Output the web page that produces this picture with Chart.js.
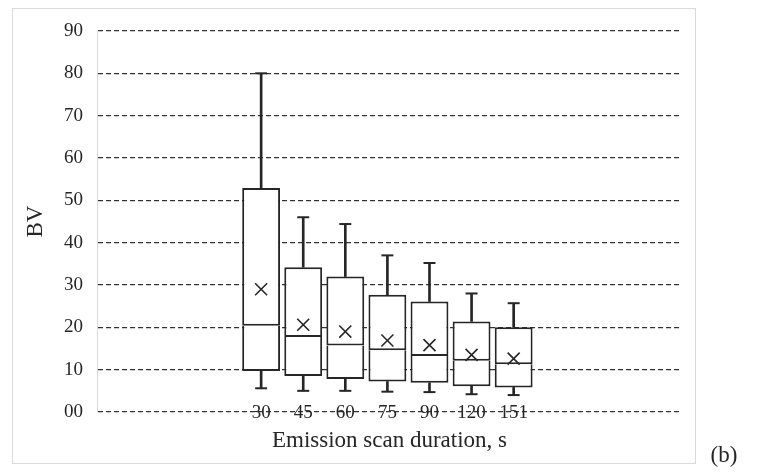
<!DOCTYPE html>
<html>
<head>
<meta charset="utf-8">
<script src="https://cdn.jsdelivr.net/npm/chart.js@4.4.1/dist/chart.umd.min.js"></script>
<style>
    html, body { margin: 0; padding: 0; background: #fff; }
    #wrap { position: relative; width: 757px; height: 475px; }
</style>
</head>
<body>
<div id="wrap">
    <canvas id="canva" width="757" height="475"></canvas>
</div>
<script>
// scan durations (s) and box statistics for BV
const durations = ['30', '45', '60', '75', '90', '120', '151'];
const whiskerMin = [5.6, 5.0, 5.0, 4.8, 4.7, 4.2, 4.0];
const q1 = [9.7, 8.5, 7.8, 7.2, 6.9, 6.1, 5.8];
const median = [20.4, 17.7, 15.7, 14.6, 13.2, 12.1, 11.3];
const q3 = [52.9, 34.2, 32.0, 27.7, 26.1, 21.4, 20.0];
const whiskerMax = [80.0, 46.0, 44.4, 37.0, 35.2, 28.0, 25.7];
const mean = [29.0, 20.6, 19.0, 16.9, 15.8, 13.5, 12.6];
const yTickLabels = ['00', '10', '20', '30', '40', '50', '60', '70', '80', '90'];

const ink = '#262626';
const serif = "'Liberation Serif', 'Times New Roman', serif";

const range = (a, b) => a.map((v, i) => ({ x: i, y: [v, b[i]] }));
const points = (arr) => arr.map((v, i) => ({ x: i, y: v }));

// light frame round the figure and the panel letter
const frame = {
    id: 'frame',
    beforeDraw(chart) {
        const ctx = chart.ctx;
        ctx.save();
        ctx.strokeStyle = '#d9d9d9';
        ctx.lineWidth = 1;
        ctx.strokeRect(12.5, 8.5, 683, 455);
        ctx.restore();
    },
    afterDraw(chart) {
        const ctx = chart.ctx;
        ctx.save();
        ctx.fillStyle = ink;
        ctx.font = '23px ' + serif;
        ctx.textAlign = 'center';
        ctx.textBaseline = 'middle';
        ctx.fillText('(b)', 724, 456);
        ctx.restore();
    },
};

const boxStyle = {
    type: 'bar',
    backgroundColor: '#ffffff',
    borderColor: ink,
    borderWidth: 2,
    grouped: false,
    barPercentage: 1,
    categoryPercentage: 0.9,
    order: 2,
};

const whiskerStyle = {
    type: 'bar',
    backgroundColor: ink,
    borderWidth: 0,
    grouped: false,
    barThickness: 2,
    order: 3,
};

const canvas = document.querySelector('#canva').getContext('2d');
new Chart(canvas, {
    type: 'bar',
    data: {
        datasets: [
            { ...whiskerStyle, label: 'lower whisker', data: range(whiskerMin, q1) },
            { ...whiskerStyle, label: 'upper whisker', data: range(q3, whiskerMax) },
            // lower half leaves its top edge to the upper half, so the median is one line
            { ...boxStyle, label: 'q1-median', data: range(q1, median), borderSkipped: 'top' },
            { ...boxStyle, label: 'median-q3', data: range(median, q3), borderSkipped: false },
            {
                type: 'scatter',
                label: 'caps',
                data: points(whiskerMin).concat(points(whiskerMax)),
                pointStyle: 'line',
                radius: 6,
                borderColor: ink,
                borderWidth: 2,
                order: 1,
            },
            {
                type: 'scatter',
                label: 'mean',
                data: points(mean),
                pointStyle: 'crossRot',
                radius: 8.5,
                borderColor: ink,
                borderWidth: 1.6,
                order: 0,
            },
        ],
    },
    options: {
        responsive: false,
        animation: false,
        devicePixelRatio: 1,
        layout: {
            padding: { left: 20, top: 31, right: 75, bottom: 13 },
        },
        plugins: {
            legend: { display: false },
            tooltip: { enabled: false },
        },
        scales: {
            x: {
                type: 'linear',
                offset: false,
                min: -3.9,
                max: 10,
                afterBuildTicks: (axis) => {
                    axis.ticks = durations.map((d, i) => ({ value: i }));
                },
                afterFit: (axis) => {
                    axis.height = 50;
                },
                grid: { display: false, drawTicks: false },
                border: { display: false },
                ticks: {
                    autoSkip: false,
                    maxRotation: 0,
                    // mirrored labels are not clipped, so they can sit on the zero line
                    mirror: true,
                    padding: -12.5,
                    color: ink,
                    font: { family: serif, size: 19 },
                    callback: (v) => durations[v],
                },
                title: {
                    display: true,
                    text: 'Emission scan duration, s',
                    color: ink,
                    font: { family: serif, size: 23 },
                    padding: { top: 0, bottom: 7 },
                },
            },
            y: {
                min: 0,
                max: 90,
                afterFit: (axis) => {
                    axis.width = 77;
                },
                grid: {
                    color: '#333333',
                    lineWidth: 1.3,
                    drawTicks: false,
                },
                border: {
                    display: true,
                    color: '#d9d9d9',
                    width: 1,
                    dash: [5, 3],
                },
                ticks: {
                    stepSize: 10,
                    padding: 14,
                    color: ink,
                    font: { family: serif, size: 19 },
                    callback: (v, i) => yTickLabels[i],
                },
                title: {
                    display: true,
                    text: 'BV',
                    color: ink,
                    font: { family: serif, size: 23 },
                    padding: { top: 2, bottom: 0 },
                },
            },
        },
    },
    plugins: [frame],
});
</script>
</body>
</html>
